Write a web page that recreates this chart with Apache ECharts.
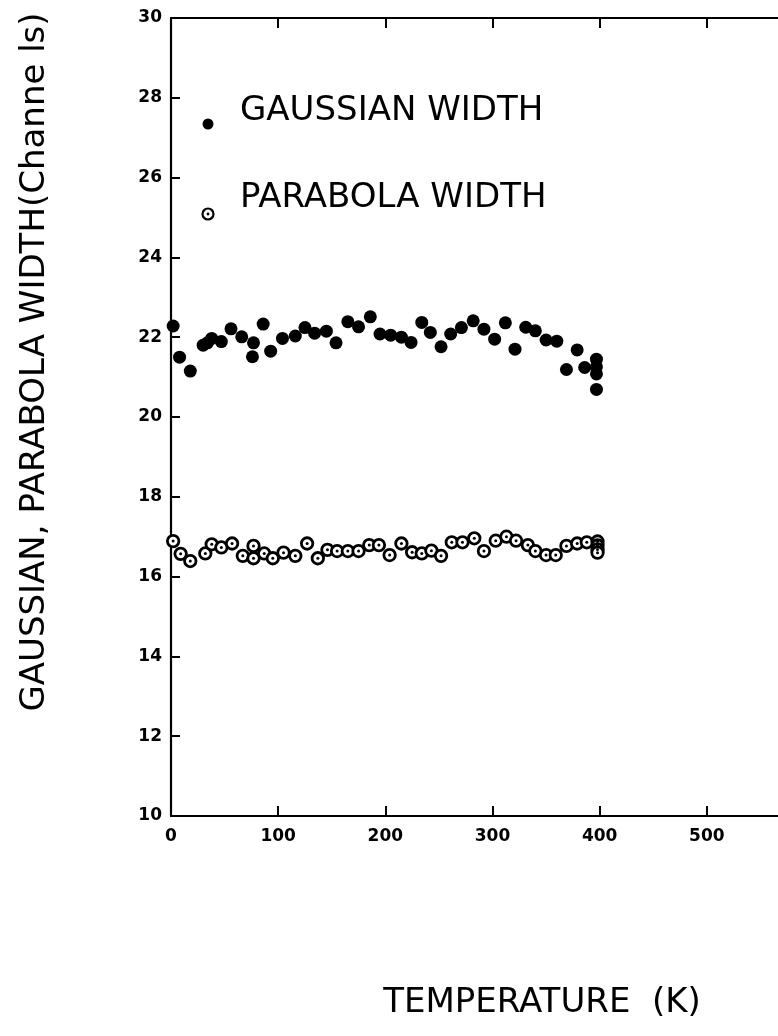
<!DOCTYPE html>
<html>
<head>
<meta charset="utf-8">
<style>
  html, body { margin: 0; padding: 0; background: #fff; }
  #chart { width: 778px; height: 1036px; }
</style>
<script src="https://cdn.jsdelivr.net/npm/echarts@6/dist/echarts.min.js"></script>
</head>
<body>
<div id="chart"></div>
<script>
// Temperature (K) and fitted widths (channels)
const gaussT = [2, 8, 18, 30, 34, 38, 47, 56, 66, 76, 77, 86, 93, 104, 116, 125, 134, 145, 154, 165, 175, 186, 195, 205, 215, 224, 234, 242, 252, 261, 271, 282, 292, 302, 312, 321, 331, 340, 350, 360, 369, 379, 386, 397, 397, 397, 397];
const gaussW = [22.28, 21.50, 21.15, 21.80, 21.86, 21.97, 21.89, 22.21, 22.01, 21.51, 21.86, 22.33, 21.65, 21.97, 22.03, 22.24, 22.10, 22.15, 21.86, 22.39, 22.26, 22.51, 22.08, 22.05, 22.00, 21.87, 22.37, 22.12, 21.76, 22.08, 22.24, 22.41, 22.20, 21.95, 22.36, 21.70, 22.25, 22.16, 21.93, 21.90, 21.19, 21.68, 21.24, 21.45, 21.26, 21.08, 20.69];

const parabT = [2, 9, 18, 32, 38, 47, 57, 67, 77, 77, 87, 95, 105, 116, 127, 137, 146, 155, 165, 175, 185, 194, 204, 215, 225, 234, 243, 252, 262, 272, 283, 292, 303, 313, 322, 333, 340, 350, 359, 369, 379, 388, 398, 398, 398, 398];
const parabW = [16.89, 16.57, 16.39, 16.58, 16.81, 16.73, 16.83, 16.52, 16.77, 16.46, 16.58, 16.46, 16.60, 16.52, 16.83, 16.46, 16.67, 16.64, 16.64, 16.64, 16.79, 16.79, 16.54, 16.83, 16.61, 16.58, 16.65, 16.52, 16.86, 16.86, 16.96, 16.64, 16.90, 17.00, 16.90, 16.79, 16.64, 16.54, 16.54, 16.77, 16.83, 16.86, 16.88, 16.78, 16.68, 16.60];

const xTicks = [0, 100, 200, 300, 400, 500, 600];
const yTicks = [10, 12, 14, 16, 18, 20, 22, 24, 26, 28, 30];

const legendLabels = ['GAUSSIAN WIDTH', 'PARABOLA WIDTH'];
const yTitle = 'GAUSSIAN, PARABOLA WIDTH(Channe ls)';
const xTitle = 'TEMPERATURE  (K)';

const pairs = (xs, ys) => xs.map((x, i) => [x, ys[i]]);

const tickFont = { fontFamily: 'DejaVu Sans', fontWeight: 'bold', fontSize: 17, color: '#000' };
const titleFont = 'DejaVu Sans';

const chart = echarts.init(document.getElementById('chart'), null, { renderer: 'canvas' });

const axisLine = { show: true, lineStyle: { color: '#000', width: 2.2 } };

chart.setOption({
  backgroundColor: '#fff',
  animation: false,
  grid: { left: 171, top: 18, right: -36, bottom: 220, outerBoundsMode: 'none', containLabel: false },
  xAxis: [
    {
      type: 'value', min: xTicks[0], max: xTicks[xTicks.length - 1], interval: 100,
      position: 'bottom',
      axisLine: axisLine,
      axisTick: { show: true, inside: true, length: 10, lineStyle: { color: '#000', width: 2 } },
      axisLabel: Object.assign({ margin: 12, formatter: v => (v === 600 ? '' : String(v)) }, tickFont),
      splitLine: { show: false }
    },
    {
      type: 'value', min: xTicks[0], max: xTicks[xTicks.length - 1], interval: 100,
      position: 'top',
      axisLine: axisLine,
      axisTick: { show: true, inside: true, length: 10, lineStyle: { color: '#000', width: 2 } },
      axisLabel: { show: false },
      splitLine: { show: false }
    }
  ],
  yAxis: {
    type: 'value', min: yTicks[0], max: yTicks[yTicks.length - 1], interval: 2,
    axisLine: axisLine,
    axisTick: { show: true, inside: true, length: 9, lineStyle: { color: '#000', width: 2 } },
    axisLabel: Object.assign({ margin: 9 }, tickFont),
    splitLine: { show: false }
  },
  series: [
    {
      name: legendLabels[0], type: 'scatter', xAxisIndex: 0,
      data: pairs(gaussT, gaussW),
      symbol: 'circle', symbolSize: 13,
      itemStyle: { color: '#000', opacity: 1 }
    },
    {
      name: legendLabels[1], type: 'scatter', xAxisIndex: 0,
      data: pairs(parabT, parabW),
      symbol: 'circle', symbolSize: 11.5,
      itemStyle: { color: '#fff', borderColor: '#000', borderWidth: 2.8, opacity: 1 }
    },
    {
      name: legendLabels[1] + ' centre', type: 'scatter', xAxisIndex: 0,
      data: pairs(parabT, parabW),
      symbol: 'circle', symbolSize: 3,
      itemStyle: { color: '#000', opacity: 1 }
    }
  ],
  graphic: [
    // legend markers and labels
    { type: 'circle', shape: { cx: 208, cy: 124, r: 5.5 }, style: { fill: '#000' } },
    { type: 'circle', shape: { cx: 208, cy: 214, r: 5.5 }, style: { fill: '#fff', stroke: '#000', lineWidth: 2.2 } },
    { type: 'circle', shape: { cx: 208, cy: 214, r: 1.4 }, style: { fill: '#000' } },
    { type: 'text', x: 240, y: 111, style: { text: legendLabels[0], font: '34px "' + titleFont + '"', fill: '#000', textVerticalAlign: 'middle' } },
    { type: 'text', x: 240, y: 198, style: { text: legendLabels[1], font: '34px "' + titleFont + '"', fill: '#000', textVerticalAlign: 'middle' } },
    // axis titles
    { type: 'text', x: 35, y: 362, rotation: Math.PI / 2,
      style: { text: yTitle, font: '34px "' + titleFont + '"', fill: '#000', textAlign: 'center', textVerticalAlign: 'middle' } },
    { type: 'text', x: 542, y: 1003,
      style: { text: xTitle, font: '34px "' + titleFont + '"', fill: '#000', textAlign: 'center', textVerticalAlign: 'middle' } }
  ]
});
</script>
</body>
</html>
